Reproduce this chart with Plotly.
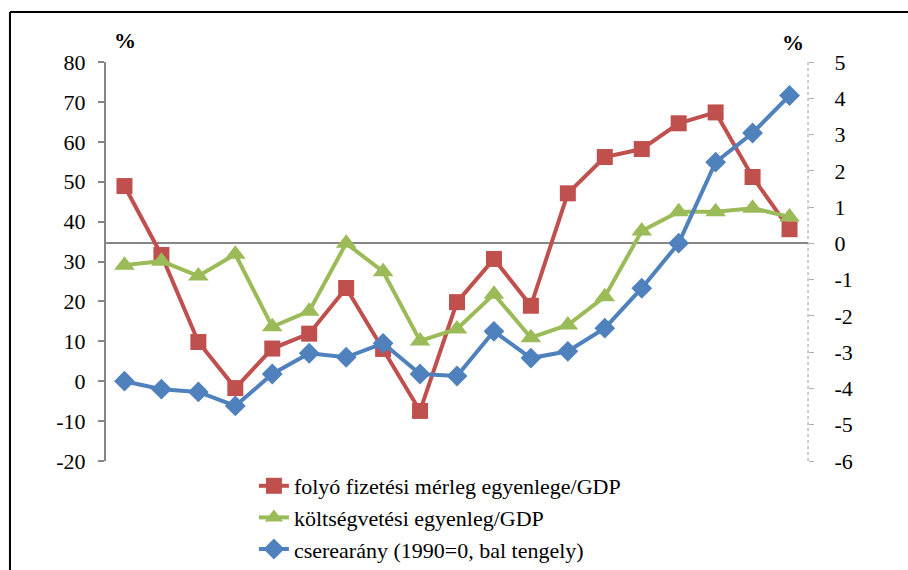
import plotly.graph_objects as go

# Years 1990-2008
years = list(range(1990, 2009))

# Current account balance / GDP (%, right axis)
current_account = [1.58, -0.32, -2.72, -3.99, -2.90, -2.49, -1.23, -2.91, -4.62, -1.62,
                   -0.43, -1.72, 1.38, 2.38, 2.60, 3.31, 3.61, 1.83, 0.39]
# Budget balance / GDP (%, right axis)
budget_balance = [-0.60, -0.49, -0.90, -0.30, -2.30, -1.87, 0.00, -0.78, -2.69, -2.36,
                  -1.40, -2.60, -2.25, -1.47, 0.34, 0.87, 0.87, 0.97, 0.73]
# Terms of trade (1990=0, left axis)
terms_of_trade = [0.0, -2.0, -2.7, -6.2, 1.8, 7.0, 6.0, 9.5, 1.8, 1.3,
                  12.5, 5.8, 7.5, 13.3, 23.3, 34.6, 54.9, 62.2, 71.6]

names = ["folyó fizetési mérleg egyenlege/GDP",
         "költségvetési egyenleg/GDP",
         "cserearány (1990=0, bal tengely)"]

left_ticks = list(range(-20, 81, 10))
left_labels = [str(v) for v in left_ticks]
right_ticks = list(range(-6, 6))
right_labels = [str(v) for v in right_ticks]

RED = "#C0504D"
GREEN = "#9BBB59"
BLUE = "#4F81BD"
GRAY = "#868686"
FONT = "Liberation Serif"

fig = go.Figure()
fig.add_trace(go.Scatter(
    x=years, y=current_account, name=names[0], yaxis="y",
    mode="lines+markers", line=dict(color=RED, width=4),
    marker=dict(symbol="square", size=16, color=RED)))
fig.add_trace(go.Scatter(
    x=years, y=budget_balance, name=names[1], yaxis="y",
    mode="lines+markers", line=dict(color=GREEN, width=4),
    marker=dict(symbol="triangle-up", size=18, color=GREEN)))
fig.add_trace(go.Scatter(
    x=years, y=terms_of_trade, name=names[2], yaxis="y2",
    mode="lines+markers", line=dict(color=BLUE, width=4),
    marker=dict(symbol="diamond", size=16, color=BLUE)))

x_range = [years[0] - 0.5, years[-1] + 0.5]
boundaries = [y + 0.5 for y in years[:-1]]

fig.update_layout(
    width=908, height=570,
    margin=dict(l=106, r=100, t=62, b=109, autoexpand=False),
    paper_bgcolor="white", plot_bgcolor="white",
    font=dict(family=FONT, size=22, color="black"),
    showlegend=True,
    legend=dict(x=0.2107, y=-0.01, xanchor="left", yanchor="top",
                font=dict(family=FONT, size=22), tracegroupgap=0,
                bgcolor="rgba(0,0,0,0)"),
    xaxis=dict(range=x_range, showline=False, showticklabels=False,
               showgrid=False, zeroline=False, ticks=""),
    # right axis (primary)
    yaxis=dict(side="right", range=[-6, 5], tickvals=right_ticks, ticktext=right_labels,
               showgrid=False, showline=False, ticks="outside", ticklen=5,
               tickcolor="#b0b0b0", tickwidth=1, ticklabelstandoff=16,
               zeroline=True, zerolinecolor=GRAY, zerolinewidth=2),
    # left axis, overlaid so the terms-of-trade series sits on top
    yaxis2=dict(side="left", overlaying="y", range=[-20, 80], tickvals=left_ticks,
                ticktext=left_labels, showgrid=False, showline=True, linecolor=GRAY,
                linewidth=2, ticks="outside", ticklen=6, tickcolor=GRAY, tickwidth=2,
                ticklabelstandoff=8, zeroline=False),
    # category separators along the zero line of the right axis
    xaxis2=dict(anchor="y3", range=x_range, tickvals=boundaries, ticks="outside",
                ticklen=5, tickcolor=GRAY, tickwidth=2, showticklabels=False,
                showline=False, showgrid=False, zeroline=False),
    yaxis3=dict(domain=[6 / 11, 1], anchor="x2", showticklabels=False, showgrid=False,
                showline=False, zeroline=False, ticks=""),
)

# dotted right axis line
fig.add_shape(type="line", xref="paper", yref="paper", x0=1, x1=1, y0=0, y1=1,
              line=dict(color="#9a9a9a", width=1, dash="dot"))
# frame: top and left edges
fig.add_shape(type="line", xref="paper", yref="paper", x0=-0.1368, x1=1.2,
              y0=1.1253, y1=1.1253, line=dict(color="black", width=2))
fig.add_shape(type="line", xref="paper", yref="paper", x0=-0.1368, x1=-0.1368,
              y0=1.1253, y1=-0.3, line=dict(color="black", width=2))

fig.add_annotation(text="<b>%</b>", xref="paper", yref="paper", x=0.027, y=1.055,
                   xanchor="center", yanchor="middle", showarrow=False,
                   font=dict(family=FONT, size=22))
fig.add_annotation(text="<b>%</b>", xref="paper", yref="paper", x=0.9786, y=1.05,
                   xanchor="center", yanchor="middle", showarrow=False,
                   font=dict(family=FONT, size=22))

fig.write_html("out.html")
